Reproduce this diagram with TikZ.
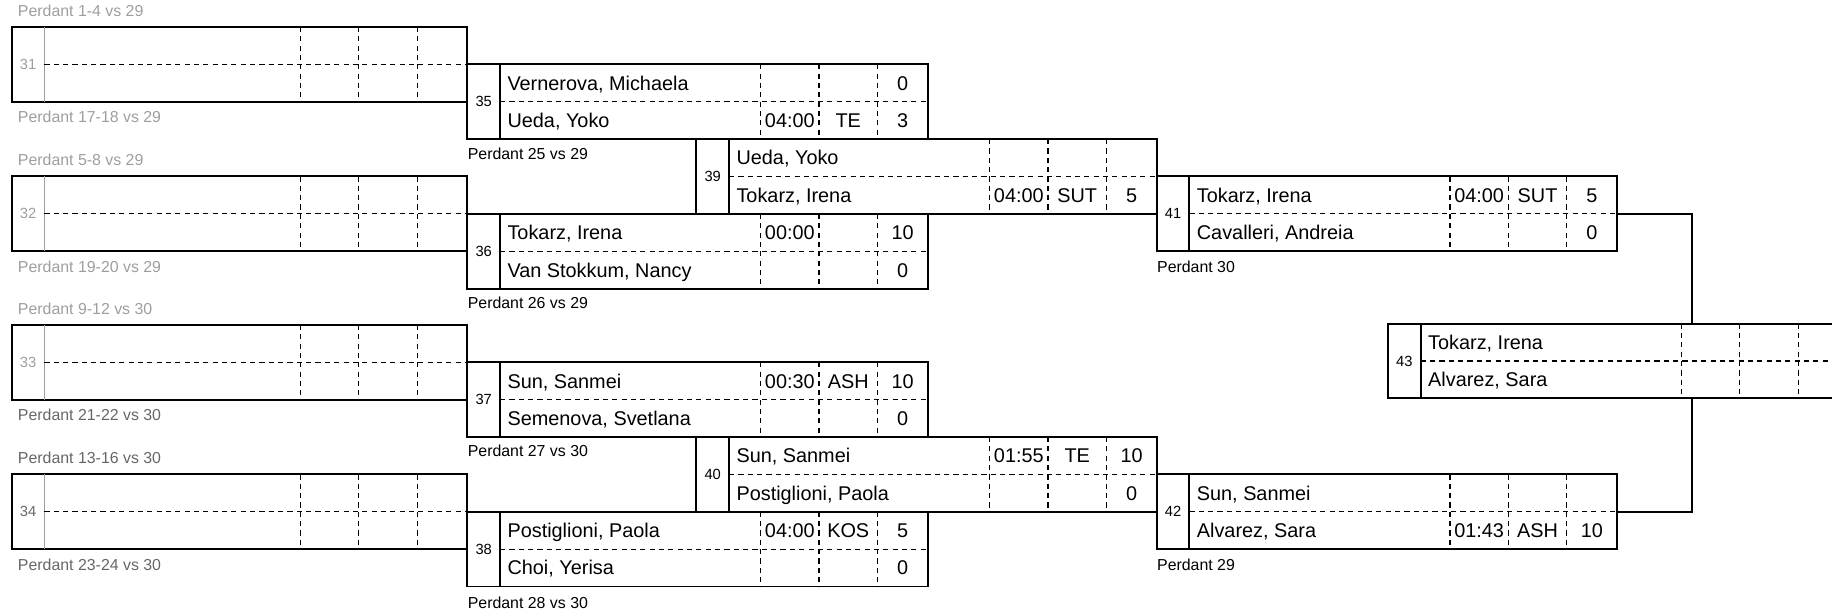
\documentclass[tikz,border=0pt]{standalone}
\usepackage{fontspec}
\setmainfont{Liberation Sans}
\usetikzlibrary{calc, positioning}
\definecolor{faint}{gray}{0.62}
\definecolor{halffaint}{gray}{0.4}

% one bout: frame, number column, cell grid
\newcommand{\bout}[5][numsep]{%
  \node[#5] (#2) at (#3,#4) {};
  \draw[#1] ($(#2.north west)+(28,0)$) -- ($(#2.south west)+(28,0)$);
  \foreach \off in {143,93,43}
    \draw[cellsep] ($(#2.north east)+(-\off,0)$) -- ($(#2.south east)+(-\off,0)$);
  \draw[cellsep] ($(#2.west)+(28,0)$) -- (#2.east);
}
% one wrestler line: box, row (1 or 2), name, time, method, points
\newcommand{\fighter}[6]{%
  \node[nametext] (#1-name#2) at ($(#1.north west)+(34,{32*#2-16})$) {#3};
  \node[celltext] (#1-time#2) at ($(#1.north east)+(-118,{32*#2-16})$) {#4};
  \node[celltext] (#1-how#2) at ($(#1.north east)+(-68,{32*#2-16})$) {#5};
  \node[celltext] (#1-pts#2) at ($(#1.north east)+(-21.5,{32*#2-16})$) {#6};
}

\begin{document}
\begin{tikzpicture}[x=0.5pt, y=-0.5pt,
  boutbox/.style={draw, line width=0.8pt, minimum width=197pt, minimum height=32pt,
    inner sep=0pt, outer sep=0pt, anchor=north west},
  firstbox/.style={boutbox, minimum width=195pt},
  numsep/.style={line width=0.8pt},
  faintsep/.style={line width=0.5pt, faint},
  cellsep/.style={line width=0.5pt, dash pattern=on 2.2pt off 1.8pt},
  link/.style={line width=0.8pt},
  nametext/.style={anchor=west, inner sep=0pt, font=\fontsize{8.5}{10}\selectfont,
    text height=6.1pt, text depth=0pt},
  celltext/.style={nametext, anchor=center},
  numtext/.style={inner sep=0pt, font=\fontsize{6.3}{7}\selectfont},
  losstext/.style={anchor=west, inner sep=0pt, font=\fontsize{6.8}{8}\selectfont,
    text height=4.9pt, text depth=0pt},
]
\clip (0,0) rectangle (1568,524);

% first round (empty)
\bout[faintsep]{c31}{10}{23}{firstbox}
\bout[faintsep]{c32}{10}{151}{firstbox}
\bout[faintsep]{c33}{10}{278}{firstbox}
\bout[faintsep]{c34}{10}{406}{firstbox}
\node[numtext, faint] (n31) at ($(c31.west)+(14,0)$) {31};
\node[numtext, faint] (n32) at ($(c32.west)+(14,0)$) {32};
\node[numtext, faint] (n33) at ($(c33.west)+(14,0)$) {33};
\node[numtext, halffaint] (n34) at ($(c34.west)+(14,0)$) {34};
\node[losstext, faint] (u31) at ($(c31.north west)+(5,-14)$) {Perdant 1-4 vs 29};
\node[losstext, faint] (d31) at ($(c31.south west)+(5,13)$) {Perdant 17-18 vs 29};
\node[losstext, faint] (u32) at ($(c32.north west)+(5,-14)$) {Perdant 5-8 vs 29};
\node[losstext, faint] (d32) at ($(c32.south west)+(5,13)$) {Perdant 19-20 vs 29};
\node[losstext, faint] (u33) at ($(c33.north west)+(5,-14)$) {Perdant 9-12 vs 30};
\node[losstext, halffaint] (d33) at ($(c33.south west)+(5,13)$) {Perdant 21-22 vs 30};
\node[losstext, halffaint] (u34) at ($(c34.north west)+(5,-14)$) {Perdant 13-16 vs 30};
\node[losstext, halffaint] (d34) at ($(c34.south west)+(5,13)$) {Perdant 23-24 vs 30};

% second round
\bout{m35}{400}{55}{boutbox}
\bout{m36}{400}{183}{boutbox}
\bout{m37}{400}{310}{boutbox}
\bout{m38}{400}{438}{boutbox}
% third round
\bout{m39}{596}{119}{boutbox}
\bout{m40}{596}{374}{boutbox}
% fourth round
\bout{m41}{990}{151}{boutbox}
\bout{m42}{990}{406}{boutbox}
% final
\bout{m43}{1188}{277}{boutbox}

\foreach \m in {35,...,43}
  \node[numtext] (n\m) at ($(m\m.west)+(14,0)$) {\m};

\fighter{m35}{1}{Vernerova, Michaela}{}{}{0}
\fighter{m35}{2}{Ueda, Yoko}{04:00}{TE}{3}
\fighter{m36}{1}{Tokarz, Irena}{00:00}{}{10}
\fighter{m36}{2}{Van Stokkum, Nancy}{}{}{0}
\fighter{m37}{1}{Sun, Sanmei}{00:30}{ASH}{10}
\fighter{m37}{2}{Semenova, Svetlana}{}{}{0}
\fighter{m38}{1}{Postiglioni, Paola}{04:00}{KOS}{5}
\fighter{m38}{2}{Choi, Yerisa}{}{}{0}
\fighter{m39}{1}{Ueda, Yoko}{}{}{}
\fighter{m39}{2}{Tokarz, Irena}{04:00}{SUT}{5}
\fighter{m40}{1}{Sun, Sanmei}{01:55}{TE}{10}
\fighter{m40}{2}{Postiglioni, Paola}{}{}{0}
\fighter{m41}{1}{Tokarz, Irena}{04:00}{SUT}{5}
\fighter{m41}{2}{Cavalleri, Andreia}{}{}{0}
\fighter{m42}{1}{Sun, Sanmei}{}{}{}
\fighter{m42}{2}{Alvarez, Sara}{01:43}{ASH}{10}
\fighter{m43}{1}{Tokarz, Irena}{}{}{}
\fighter{m43}{2}{Alvarez, Sara}{}{}{}

% losers' labels
\node[losstext] (l35) at ($(m35.south west)+(0,13)$) {Perdant 25 vs 29};
\node[losstext] (l36) at ($(m36.south west)+(0,12)$) {Perdant 26 vs 29};
\node[losstext] (l37) at ($(m37.south west)+(0,12)$) {Perdant 27 vs 30};
\node[losstext] (l38) at ($(m38.south west)+(0,14)$) {Perdant 28 vs 30};
\node[losstext] (l41) at ($(m41.south west)+(0,13)$) {Perdant 30};
\node[losstext] (l42) at ($(m42.south west)+(0,13)$) {Perdant 29};

% into the final
\draw[link] (m41.east) -| ($(m43.north west)+(260,0)$);
\draw[link] (m42.east) -| ($(m43.south west)+(260,0)$);
\end{tikzpicture}
\end{document}
